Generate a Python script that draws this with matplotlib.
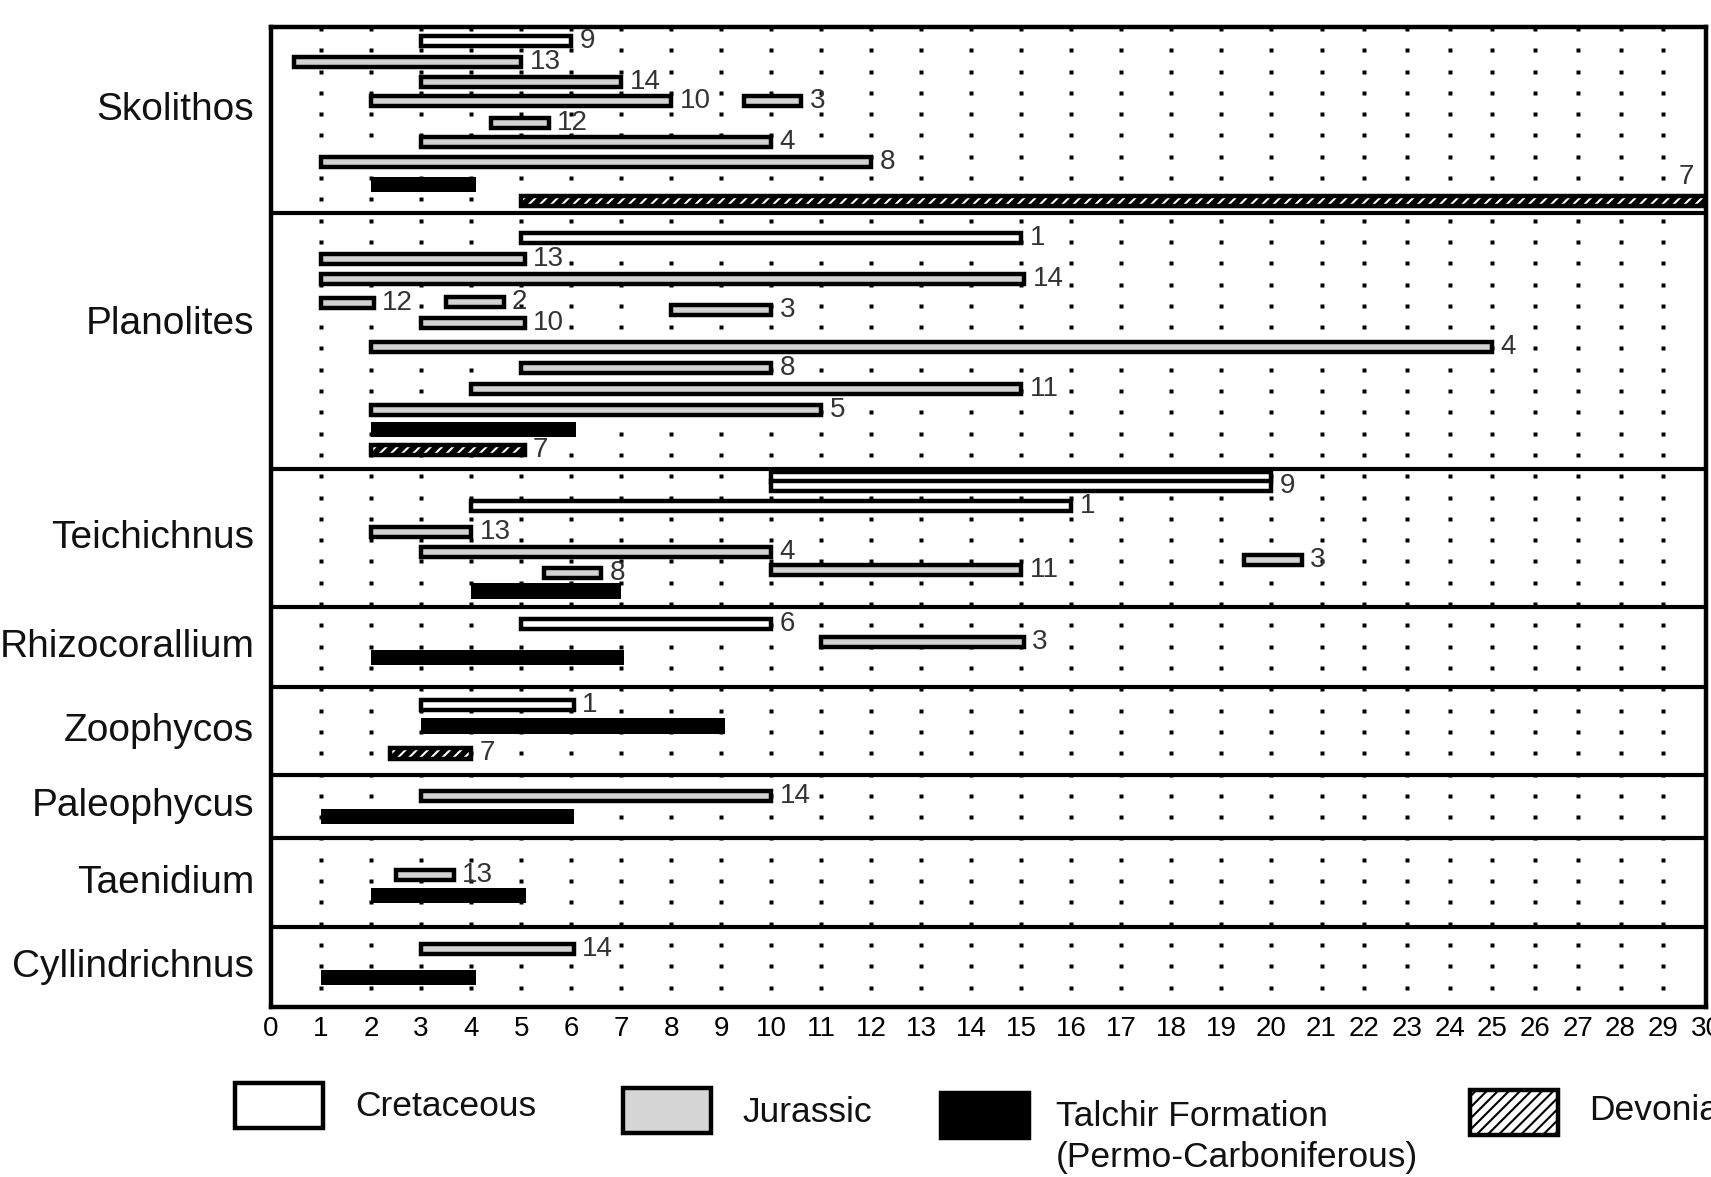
import numpy as np
import matplotlib
matplotlib.use("Agg")
import matplotlib.pyplot as plt
from matplotlib.patches import Rectangle

# ---- data -----------------------------------------------------------------
ichnofossils = ["Skolithos", "Planolites", "Teichichnus", "Rhizocorallium",
                "Zoophycos", "Paleophycus", "Taenidium", "Cyllindrichnus"]

# one entry per bar, grouped by ichnofossil (C=Cretaceous, J=Jurassic,
# T=Talchir Formation, D=Devonian)
bar_period = (["C", "J", "J", "J", "J", "J", "J", "J", "T", "D"]
              + ["C", "J", "J", "J", "J", "J", "J", "J", "J", "J", "J", "T", "D"]
              + ["C", "C", "C", "J", "J", "J", "J", "J", "T"]
              + ["C", "J", "T"]
              + ["C", "T", "D"]
              + ["J", "T"]
              + ["J", "T"]
              + ["J", "T"])
bar_start = ([3, 0.45, 3, 2, 9.45, 4.4, 3, 1, 2, 5]
             + [5, 1, 1, 1, 3.5, 8, 3, 2, 5, 4, 2, 2, 2]
             + [10, 10, 4, 2, 3, 19.45, 10, 5.45, 4]
             + [5, 11, 2]
             + [3, 3, 2.38]
             + [3, 1]
             + [2.5, 2]
             + [3, 1])
bar_end = ([6, 5, 7, 8, 10.6, 5.55, 10, 12, 4.1, 30]
           + [15, 5.07, 15.06, 2.05, 4.65, 10, 5.07, 25, 10, 15, 11, 6.1, 5.07]
           + [20, 20, 16, 4, 10, 20.6, 15, 6.6, 7]
           + [10, 15.05, 7.05]
           + [6.05, 9.08, 4.0]
           + [10, 6.05]
           + [3.65, 5.1]
           + [6.05, 4.1])
bar_ref = (["9", "13", "14", "10", "3", "12", "4", "8", "", "7"]
           + ["1", "13", "14", "12", "2", "3", "10", "4", "8", "11", "5", "", "7"]
           + ["", "9", "1", "13", "4", "3", "11", "8", ""]
           + ["6", "3", ""]
           + ["1", "", "7"]
           + ["14", ""]
           + ["13", ""]
           + ["14", ""])
# vertical lane of each bar (one lane = one row of grid dots)
bar_lane = ([0.55, 1.54, 2.47, 3.38, 3.38, 4.43, 5.29, 6.23, 7.29, 8.08]
            + [9.83, 10.81, 11.75, 12.88, 12.82, 13.19, 13.79, 14.92, 15.93,
               16.9, 17.89, 18.79, 19.77]
            + [21.05, 21.46, 22.38, 23.6, 24.54, 24.93, 25.4, 25.53, 26.38]
            + [27.93, 28.76, 29.5]
            + [31.74, 32.72, 34.0]
            + [36.0, 36.98]
            + [39.72, 40.69]
            + [43.19, 44.54])

group_edges = [-0.09, 8.64, 20.66, 27.14, 30.87, 35.0, 38.0, 42.15, 45.9]
label_nudge = [-0.47, -0.8, 0, 0, 0, 0, 0, 0]

x_ticks = list(range(0, 31))

legend_periods = ["C", "J", "T", "D"]
legend_labels = ["Cretaceous", "Jurassic",
                 "Talchir Formation\n(Permo-Carboniferous)", "Devonian"]

FONT = "Liberation Sans"
plt.rcParams["hatch.linewidth"] = 1.5

W, H = 1711, 1177
fig = plt.figure(figsize=(W / 100, H / 100), dpi=100)
ax = fig.add_axes([271 / W, 1 - 1006.7 / H, (1706 - 271) / W, (1006.7 - 27) / H])

# the original axis is compressed beyond 21
K = 42.7 / 50


def fwd(x):
    x = np.asarray(x, float)
    return np.where(x <= 21, x, 21 + (x - 21) * K)


def inv(x):
    x = np.asarray(x, float)
    return np.where(x <= 21, x, 21 + (x - 21) / K)


ax.set_xscale("function", functions=(fwd, inv))
ax.set_xlim(0, 30)
ax.set_ylim(group_edges[-1], group_edges[0])

# dotted grid
gx, gy = np.meshgrid(np.arange(1, 30), np.arange(0, 46))
ax.plot(gx.ravel(), gy.ravel(), ls="none", marker="s", ms=3.4,
        mfc="black", mec="none", zorder=1)

LW = 3.2
fills = {"C": "white", "J": "#d2d2d2"}

for p, s, e, r, lane in zip(bar_period, bar_start, bar_end, bar_ref, bar_lane):
    if p in fills:
        ax.barh(lane, e - s, left=s, height=0.47, color=fills[p],
                edgecolor="black", linewidth=LW, zorder=3)
    elif p == "T":
        ax.barh(lane, e - s, left=s, height=0.72, color="black",
                linewidth=0, zorder=3)
    else:
        ax.barh(lane, e - s, left=s, height=0.5, color="black",
                edgecolor="white", hatch="///", linewidth=0, zorder=3)
        ax.barh(lane, e - s, left=s, height=0.5, fill=False,
                edgecolor="black", linewidth=LW, zorder=4)
    if r:
        if e >= 30:
            ax.annotate(r, (e, lane), xytext=(-14, 17), textcoords="offset points",
                        ha="center", va="center", fontsize=20, color="#333333",
                        family=FONT, annotation_clip=False)
        else:
            ax.annotate(r, (e, lane), xytext=(6, 0), textcoords="offset points",
                        ha="left", va="center", fontsize=20, color="#333333",
                        family=FONT, annotation_clip=False)

# group separators and names
for edge in group_edges[1:-1]:
    ax.axhline(edge, color="black", lw=3, zorder=5)

for i, name in enumerate(ichnofossils):
    mid = (group_edges[i] + group_edges[i + 1]) / 2 + label_nudge[i]
    ax.annotate(name, xy=(0, mid), xycoords=("axes fraction", "data"),
                xytext=(-12, 0), textcoords="offset points", ha="right",
                va="center", fontsize=28, family=FONT, color="#111111")

ax.set_xticks(x_ticks)
ax.set_xticklabels([str(t) for t in x_ticks], family=FONT, fontsize=20)
ax.minorticks_off()
ax.tick_params(axis="x", length=0, pad=7)
ax.set_yticks([])
for sp in ax.spines.values():
    sp.set_linewidth(3.2)
    sp.set_zorder(6)

# legend drawn below the axes
box_left = [235, 623, 941, 1470]
box_top = [1083, 1088, 1093, 1090]
text_left = [355, 742, 1056, 1589]
text_mid = [1107, 1112, 1116, 1110]
for p, lab, bx, by, tx, ty in zip(legend_periods, legend_labels, box_left,
                                  box_top, text_left, text_mid):
    kw = dict(transform=fig.transFigure, linewidth=LW, edgecolor="black")
    if p == "C":
        kw["facecolor"] = "white"
    elif p == "J":
        kw["facecolor"] = "#d6d6d6"
    elif p == "T":
        kw["facecolor"] = "black"
    else:
        kw.update(facecolor="white", hatch="///")
    fig.patches.append(Rectangle((bx / W, 1 - (by + 45) / H), 88 / W, 45 / H, **kw))
    for j, line in enumerate(lab.split("\n")):
        fig.text(tx / W, 1 - (ty + 42 * j) / H, line, ha="left", va="center",
                 fontsize=25.5, family=FONT, color="#111111")

fig.savefig("out.png", dpi=100)
